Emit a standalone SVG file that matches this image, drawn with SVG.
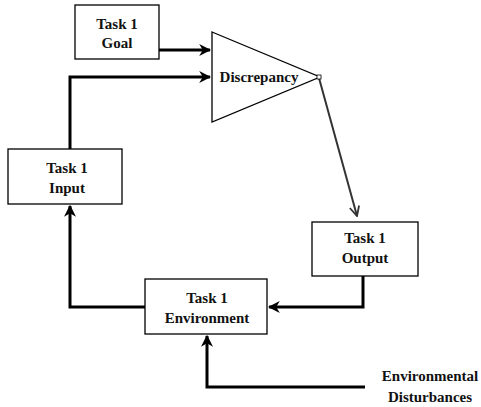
<svg xmlns="http://www.w3.org/2000/svg" width="481" height="407" viewBox="0 0 481 407">
  <style>
    .box { fill: #fff; stroke: #000; stroke-width: 1.3; }
    .lbl { font-family: "Liberation Serif", "Times New Roman", serif; font-size: 15px; font-weight: bold; fill: #111; text-anchor: middle; }
    .wire { fill: none; stroke: #000; stroke-width: 3; }
    .thin { fill: none; stroke: #333; stroke-width: 2; }
  </style>
  <defs>
    <marker id="head" viewBox="0 0 10 10" refX="9" refY="5" markerWidth="4" markerHeight="4" orient="auto">
      <path d="M0,0 L10,5 L0,10 L3,5 Z" fill="#000"/>
    </marker>
    <marker id="open" viewBox="0 0 10 10" refX="9" refY="5" markerWidth="6" markerHeight="6" orient="auto">
      <path d="M1,1 L9,5 L1,9" fill="none" stroke="#333" stroke-width="1.5"/>
    </marker>
  </defs>

  <g id="connectors">
    <path class="wire" d="M159,50 L210,50" marker-end="url(#head)"/>
    <path class="wire" d="M70,149 L70,77 L210,77" marker-end="url(#head)"/>
    <path class="thin" d="M319,78 L357,216" marker-end="url(#open)"/>
    <path class="wire" d="M363,276 L363,307 L269,307" marker-end="url(#head)"/>
    <path class="wire" d="M145,307 L70,307 L70,206" marker-end="url(#head)"/>
    <path class="wire" d="M365,387 L207,387 L207,336" marker-end="url(#head)"/>
  </g>

  <g id="goal">
    <rect class="box" x="75" y="5" width="84" height="54"/>
    <text class="lbl" x="117" y="29">Task 1</text>
    <text class="lbl" x="117" y="48">Goal</text>
  </g>

  <g id="discrepancy">
    <polygon class="box" points="212,32 320,77 212,122"/>
    <rect x="317" y="75" width="4" height="4" fill="#fff" stroke="#000" stroke-width="0.8"/>
    <text class="lbl" x="259" y="82">Discrepancy</text>
  </g>

  <g id="input">
    <rect class="box" x="8" y="149" width="114" height="55"/>
    <text class="lbl" x="67" y="173">Task 1</text>
    <text class="lbl" x="67" y="193">Input</text>
  </g>

  <g id="output">
    <rect class="box" x="312" y="222" width="106" height="54"/>
    <text class="lbl" x="365" y="243">Task 1</text>
    <text class="lbl" x="365" y="263">Output</text>
  </g>

  <g id="environment">
    <rect class="box" x="145" y="279" width="122" height="55"/>
    <text class="lbl" x="207" y="303">Task 1</text>
    <text class="lbl" x="207" y="323">Environment</text>
  </g>

  <g id="disturbances">
    <text class="lbl" x="430" y="381">Environmental</text>
    <text class="lbl" x="430" y="402">Disturbances</text>
  </g>
</svg>
